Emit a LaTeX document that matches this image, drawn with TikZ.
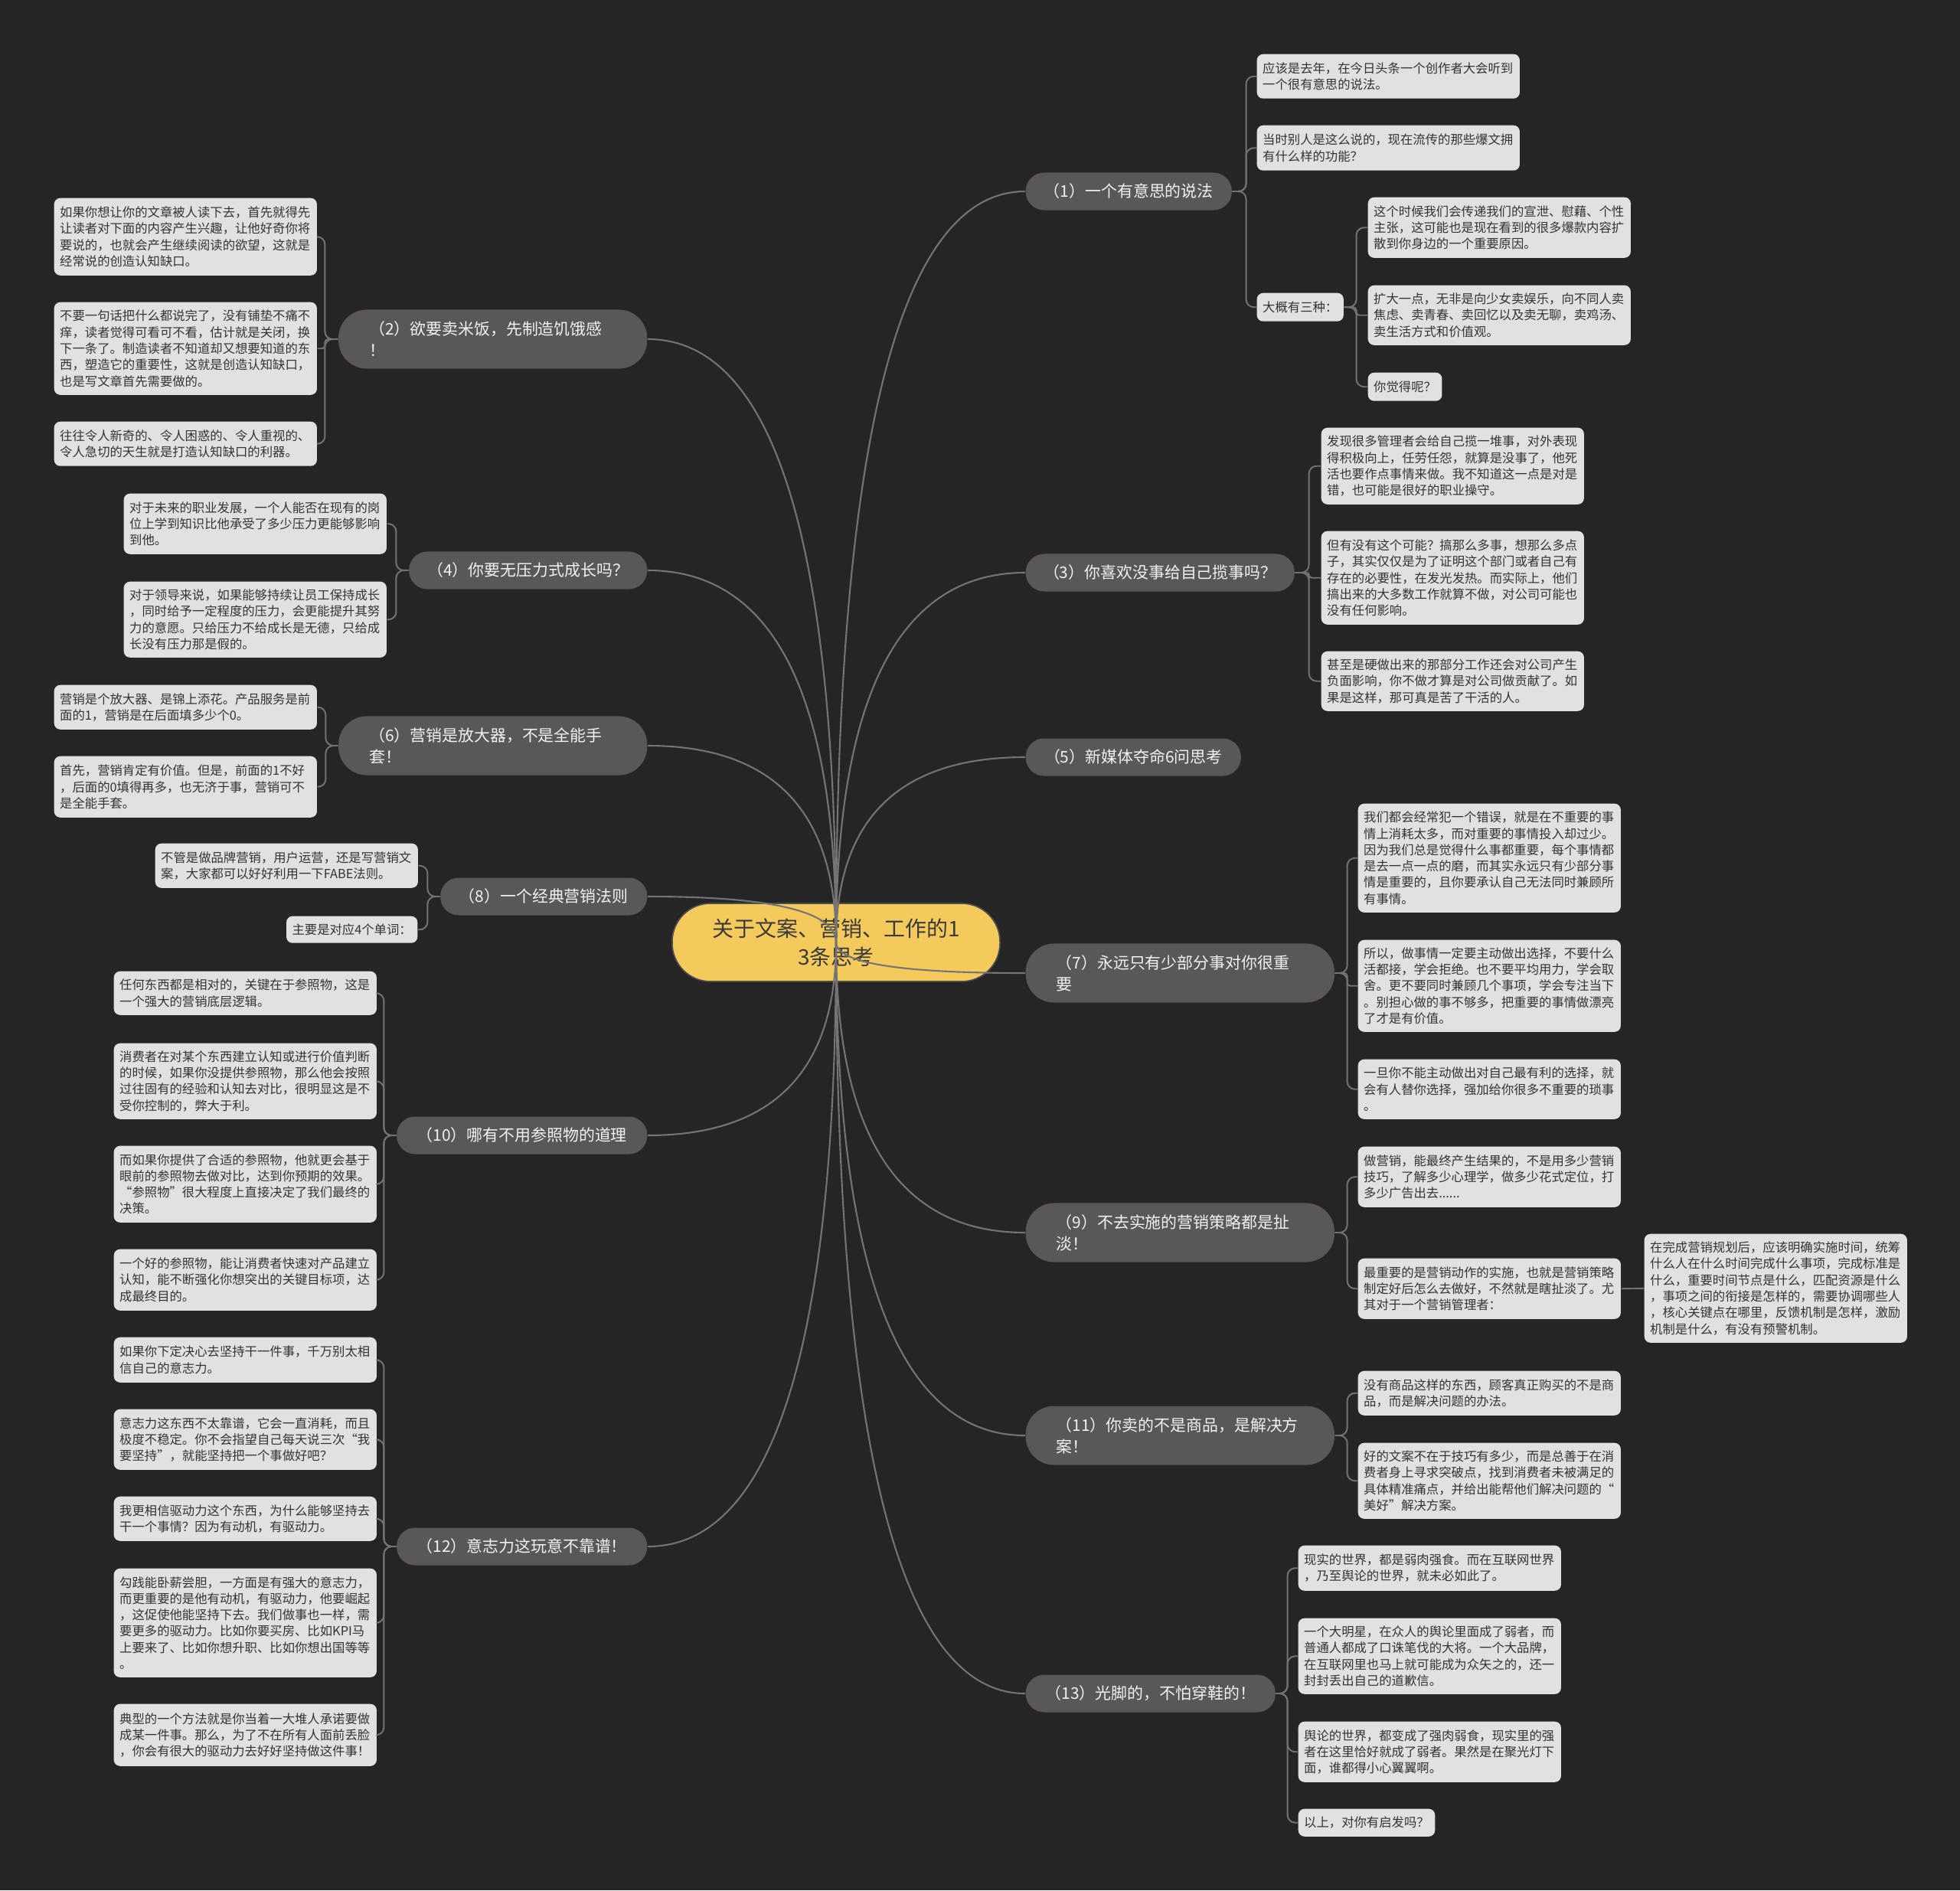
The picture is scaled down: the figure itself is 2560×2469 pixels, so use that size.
\documentclass[tikz,border=0pt]{standalone}
\usepackage{fontspec}
\setmainfont{Noto Sans CJK SC}
\usetikzlibrary{calc}
\definecolor{bgc}{HTML}{252525}
\definecolor{leafc}{HTML}{E1E1E1}
\definecolor{leaft}{HTML}{333333}
\definecolor{brc}{HTML}{5A5754}
\definecolor{brt}{HTML}{F2F2F2}
\definecolor{rootc}{HTML}{F4CA5C}
\definecolor{roott}{HTML}{3A3A3A}
\definecolor{linec}{HTML}{747474}
\begin{document}
\begin{tikzpicture}[x=0.01cm,y=-0.01cm,
  leaf/.style={fill=leafc, text=leaft, rounded corners=0.08cm,
    font=\fontsize{4.65pt}{6.05pt}\selectfont, inner xsep=0.075cm, inner ysep=0.04cm, align=left},
  wleaf/.style={leaf, text width=3.28cm, anchor=north west},
  sleaf/.style={leaf, minimum height=0.36cm},
  br/.style={fill=brc, text=brt, font=\fontsize{5.95pt}{8pt}\selectfont, inner sep=0pt},
  bra/.style={br, rounded corners=0.24cm, minimum height=0.49cm, align=center},
  brb/.style={br, rounded corners=0.37cm, minimum height=0.77cm, align=left, text width=3.23cm, inner xsep=0.4cm},
  rootn/.style={fill=rootc, draw=black!70, line width=0.5pt, text=roott, rounded corners=0.5cm,
    minimum width=4.28cm, minimum height=1.02cm, align=center,
    font=\fontsize{7.95pt}{10.5pt}\selectfont},
  rk/.style={draw=linec, line width=0.6pt},
  lk/.style={draw=linec, line width=0.55pt, rounded corners=0.1cm},
  lks/.style={draw=linec, line width=0.55pt, rounded corners=0.04cm}
]
\fill[bgc] (0,0) rectangle (2560,2469);
\useasboundingbox (0,0) rectangle (2560,2469);

% root
\node[rootn] (root) at (1092,1231) {关于文案、营销、工作的1\\3条思考};

% right branches
\node[bra, anchor=west, minimum width=2.69cm] (b1) at (1339,250) {（1）一个有意思的说法};
\node[bra, anchor=west, minimum width=3.51cm] (b3) at (1339,748) {（3）你喜欢没事给自己揽事吗？};
\node[bra, anchor=west, minimum width=2.81cm] (b5) at (1339,989) {（5）新媒体夺命6问思考};
\node[brb, anchor=west] (b7) at (1339,1271) {（7）永远只有少部分事对你很重\\要};
\node[brb, anchor=west] (b9) at (1339,1610) {（9）不去实施的营销策略都是扯\\淡！};
\node[brb, anchor=west] (b11) at (1339,1875) {（11）你卖的不是商品，是解决方\\案！};
\node[bra, anchor=west, minimum width=3.26cm] (b13) at (1339,2212) {（13）光脚的，不怕穿鞋的！};

% left branches
\node[brb, anchor=east] (b2) at (846,443) {（2）欲要卖米饭，先制造饥饿感\\！};
\node[bra, anchor=east, minimum width=3.11cm] (b4) at (846,745) {（4）你要无压力式成长吗？};
\node[brb, anchor=east] (b6) at (846,974) {（6）营销是放大器，不是全能手\\套！};
\node[bra, anchor=east, minimum width=2.70cm] (b8) at (846,1171) {（8）一个经典营销法则};
\node[bra, anchor=east, minimum width=3.27cm] (b10) at (846,1483) {（10）哪有不用参照物的道理};
\node[bra, anchor=east, minimum width=3.27cm] (b12) at (846,2020) {（12）意志力这玩意不靠谱！};

% leaves of (1)
\node[wleaf, minimum height=0.58cm] (a1) at (1641,70) {应该是去年，在今日头条一个创作者大会听到\\一个很有意思的说法。};
\node[wleaf, minimum height=0.59cm] (a2) at (1641,163) {当时别人是这么说的，现在流传的那些爆文拥\\有什么样的功能？};
\node[sleaf, anchor=north west, minimum height=0.37cm] (a3) at (1641,382) {大概有三种：};
\node[wleaf, minimum height=0.79cm] (c1) at (1786,257) {这个时候我们会传递我们的宣泄、慰藉、个性\\主张，这可能也是现在看到的很多爆款内容扩\\散到你身边的一个重要原因。};
\node[wleaf, minimum height=0.78cm] (c2) at (1786,372) {扩大一点，无非是向少女卖娱乐，向不同人卖\\焦虑、卖青春、卖回忆以及卖无聊，卖鸡汤、\\卖生活方式和价值观。};
\node[sleaf, anchor=north west, minimum height=0.37cm] (c3) at (1786,486) {你觉得呢？};

% leaves of (3)
\node[wleaf, minimum height=1.00cm] (d1) at (1725,558) {发现很多管理者会给自己揽一堆事，对外表现\\得积极向上，任劳任怨，就算是没事了，他死\\活也要作点事情来做。我不知道这一点是对是\\错，也可能是很好的职业操守。};
\node[wleaf, minimum height=1.22cm] (d2) at (1725,693) {但有没有这个可能？搞那么多事，想那么多点\\子，其实仅仅是为了证明这个部门或者自己有\\存在的必要性，在发光发热。而实际上，他们\\搞出来的大多数工作就算不做，对公司可能也\\没有任何影响。};
\node[wleaf, minimum height=0.78cm] (d3) at (1725,850) {甚至是硬做出来的那部分工作还会对公司产生\\负面影响，你不做才算是对公司做贡献了。如\\果是这样，那可真是苦了干活的人。};

% leaves of (7)
\node[wleaf, minimum height=1.42cm] (e1) at (1773,1049) {我们都会经常犯一个错误，就是在不重要的事\\情上消耗太多，而对重要的事情投入却过少。\\因为我们总是觉得什么事都重要，每个事情都\\是去一点一点的磨，而其实永远只有少部分事\\情是重要的，且你要承认自己无法同时兼顾所\\有事情。};
\node[wleaf, minimum height=1.20cm] (e2) at (1773,1227) {所以，做事情一定要主动做出选择，不要什么\\活都接，学会拒绝。也不要平均用力，学会取\\舍。更不要同时兼顾几个事项，学会专注当下\\。别担心做的事不够多，把重要的事情做漂亮\\了才是有价值。};
\node[wleaf, minimum height=0.78cm] (e3) at (1773,1383) {一旦你不能主动做出对自己最有利的选择，就\\会有人替你选择，强加给你很多不重要的琐事\\。};

% leaves of (9)
\node[wleaf, minimum height=0.79cm] (f1) at (1773,1497) {做营销，能最终产生结果的，不是用多少营销\\技巧，了解多少心理学，做多少花式定位，打\\多少广告出去......};
\node[wleaf, minimum height=0.79cm] (f2) at (1773,1643) {最重要的是营销动作的实施，也就是营销策略\\制定好后怎么去做好，不然就是瞎扯淡了。尤\\其对于一个营销管理者：};
\node[wleaf, minimum height=1.42cm] (g) at (2147,1611) {在完成营销规划后，应该明确实施时间，统筹\\什么人在什么时间完成什么事项，完成标准是\\什么，重要时间节点是什么，匹配资源是什么\\，事项之间的衔接是怎样的，需要协调哪些人\\，核心关键点在哪里，反馈机制是怎样，激励\\机制是什么，有没有预警机制。};

% leaves of (11)
\node[wleaf, minimum height=0.58cm] (h1) at (1773,1790) {没有商品这样的东西，顾客真正购买的不是商\\品，而是解决问题的办法。};
\node[wleaf, minimum height=0.99cm] (h2) at (1773,1884) {好的文案不在于技巧有多少，而是总善于在消\\费者身上寻求突破点，找到消费者未被满足的\\具体精准痛点，并给出能帮他们解决问题的“\\美好”解决方案。};

% leaves of (13)
\node[wleaf, minimum height=0.59cm] (i1) at (1695,2018) {现实的世界，都是弱肉强食。而在互联网世界\\，乃至舆论的世界，就未必如此了。};
\node[wleaf, minimum height=0.99cm] (i2) at (1695,2113) {一个大明星，在众人的舆论里面成了弱者，而\\普通人都成了口诛笔伐的大将。一个大品牌，\\在互联网里也马上就可能成为众矢之的，还一\\封封丢出自己的道歉信。};
\node[wleaf, minimum height=0.79cm] (i3) at (1695,2248) {舆论的世界，都变成了强肉弱食，现实里的强\\者在这里恰好就成了弱者。果然是在聚光灯下\\面，谁都得小心翼翼啊。};
\node[sleaf, anchor=north west] (i4) at (1695,2362) {以上，对你有启发吗？};

% leaves of (2)
\node[wleaf, minimum height=1.01cm] (j1) at (70,258) {如果你想让你的文章被人读下去，首先就得先\\让读者对下面的内容产生兴趣，让他好奇你将\\要说的，也就会产生继续阅读的欲望，这就是\\经常说的创造认知缺口。};
\node[wleaf, minimum height=1.21cm] (j2) at (70,394) {不要一句话把什么都说完了，没有铺垫不痛不\\痒，读者觉得可看可不看，估计就是关闭，换\\下一条了。制造读者不知道却又想要知道的东\\西，塑造它的重要性，这就是创造认知缺口，\\也是写文章首先需要做的。};
\node[wleaf, minimum height=0.58cm] (j3) at (70,550) {往往令人新奇的、令人困惑的、令人重视的、\\令人急切的天生就是打造认知缺口的利器。};

% leaves of (4)
\node[wleaf, minimum height=0.79cm] (k1) at (161,644) {对于未来的职业发展，一个人能否在现有的岗\\位上学到知识比他承受了多少压力更能够影响\\到他。};
\node[wleaf, minimum height=0.99cm] (k2) at (161,759) {对于领导来说，如果能够持续让员工保持成长\\，同时给予一定程度的压力，会更能提升其努\\力的意愿。只给压力不给成长是无德，只给成\\长没有压力那是假的。};

% leaves of (6)
\node[wleaf, minimum height=0.58cm] (l1) at (70,894) {营销是个放大器、是锦上添花。产品服务是前\\面的1，营销是在后面填多少个0。};
\node[wleaf, minimum height=0.80cm] (l2) at (70,987) {首先，营销肯定有价值。但是，前面的1不好\\，后面的0填得再多，也无济于事，营销可不\\是全能手套。};

% leaves of (8)
\node[wleaf, minimum height=0.58cm] (m1) at (202,1101) {不管是做品牌营销，用户运营，还是写营销文\\案，大家都可以好好利用一下FABE法则。};
\node[sleaf, anchor=north east, minimum height=0.35cm] (m2) at (546,1196) {主要是对应4个单词：};

% leaves of (10)
\node[wleaf, minimum height=0.57cm] (n1) at (148,1268) {任何东西都是相对的，关键在于参照物，这是\\一个强大的营销底层逻辑。};
\node[wleaf, minimum height=0.99cm] (n2) at (148,1362) {消费者在对某个东西建立认知或进行价值判断\\的时候，如果你没提供参照物，那么他会按照\\过往固有的经验和认知去对比，很明显这是不\\受你控制的，弊大于利。};
\node[wleaf, minimum height=1.00cm] (n3) at (148,1496) {而如果你提供了合适的参照物，他就更会基于\\眼前的参照物去做对比，达到你预期的效果。\\“参照物”很大程度上直接决定了我们最终的\\决策。};
\node[wleaf, minimum height=0.80cm] (n4) at (148,1631) {一个好的参照物，能让消费者快速对产品建立\\认知，能不断强化你想突出的关键目标项，达\\成最终目的。};

% leaves of (12)
\node[wleaf, minimum height=0.59cm] (o1) at (148,1746) {如果你下定决心去坚持干一件事，千万别太相\\信自己的意志力。};
\node[wleaf, minimum height=0.79cm] (o2) at (148,1840) {意志力这东西不太靠谱，它会一直消耗，而且\\极度不稳定。你不会指望自己每天说三次“我\\要坚持”，就能坚持把一个事做好吧？};
\node[wleaf, minimum height=0.58cm] (o3) at (148,1954) {我更相信驱动力这个东西，为什么能够坚持去\\干一个事情？因为有动机，有驱动力。};
\node[wleaf, minimum height=1.42cm] (o4) at (148,2048) {勾践能卧薪尝胆，一方面是有强大的意志力，\\而更重要的是他有动机，有驱动力，他要崛起\\，这促使他能坚持下去。我们做事也一样，需\\要更多的驱动力。比如你要买房、比如KPI马\\上要来了、比如你想升职、比如你想出国等等\\。};
\node[wleaf, minimum height=0.81cm] (o5) at (148,2225) {典型的一个方法就是你当着一大堆人承诺要做\\成某一件事。那么，为了不在所有人面前丢脸\\，你会有很大的驱动力去好好坚持做这件事！};

% leaf connectors, right side
\foreach \c in {a1,a2,a3} \draw[lk] (b1.east) -- ++(18,0) |- (\c.west);
\foreach \c in {c1,c3} \draw[lk] (a3.east) -- ++(16,0) |- (\c.west);
\draw[lks] (a3.east) -- ++(16,0) |- (c2.west);
\foreach \c in {d1,d3} \draw[lk] (b3.east) -- ++(18,0) |- (\c.west);
\draw[lks] (b3.east) -- ++(18,0) |- (d2.west);
\foreach \c in {e1,e3} \draw[lk] (b7.east) -- ++(16,0) |- (\c.west);
\draw[lks] (b7.east) -- ++(16,0) |- (e2.west);
\foreach \c in {f1,f2} \draw[lk] (b9.east) -- ++(16,0) |- (\c.west);
\draw[lk] (f2.east) -- (g.west);
\foreach \c in {h1,h2} \draw[lk] (b11.east) -- ++(16,0) |- (\c.west);
\foreach \c in {i1,i2,i3,i4} \draw[lk] (b13.east) -- ++(15,0) |- (\c.west);

% leaf connectors, left side
\foreach \c in {j1,j3} \draw[lk] (b2.west) -- ++(-17,0) |- (\c.east);
\draw[lks] (b2.west) -- ++(-17,0) |- (j2.east);
\foreach \c in {k1,k2} \draw[lk] (b4.west) -- ++(-16,0) |- (\c.east);
\foreach \c in {l1,l2} \draw[lk] (b6.west) -- ++(-16,0) |- (\c.east);
\foreach \c in {m1,m2} \draw[lk] (b8.west) -- ++(-16,0) |- (\c.east);
\foreach \c in {n1,n2,n3,n4} \draw[lk] (b10.west) -- ++(-16,0) |- (\c.east);
\foreach \c in {o1,o2,o3,o4,o5} \draw[lk] (b12.west) -- ++(-16,0) |- (\c.east);

% root connectors (drawn over the root node)
\foreach \b in {b1,b3,b5,b7,b9,b11,b13}
  \draw[rk] (root.center) .. controls ($(root.center)!0.6667!(root.center |- \b.west)$) and ($(\b.west)!0.6667!(root.center |- \b.west)$) .. (\b.west);
\foreach \b in {b2,b4,b6,b8,b10,b12}
  \draw[rk] (root.center) .. controls ($(root.center)!0.6667!(root.center |- \b.east)$) and ($(\b.east)!0.6667!(root.center |- \b.east)$) .. (\b.east);
\end{tikzpicture}
\end{document}
